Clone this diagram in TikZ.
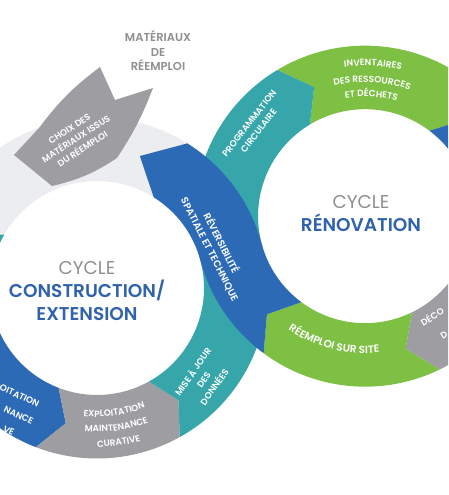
\documentclass[tikz,border=0pt]{standalone}
\usepackage{fontspec}
\setmainfont{Poppins}[BoldFont={* SemiBold}]
\usetikzlibrary{decorations.text}
\definecolor{bandblue}{RGB}{44,106,182}
\definecolor{bandteal}{RGB}{54,166,170}
\definecolor{bandgreen}{RGB}{125,192,68}
\definecolor{bandgrey}{RGB}{158,158,162}
\definecolor{bandlight}{RGB}{236,237,240}
\definecolor{titleblue}{RGB}{48,99,172}
\definecolor{titlegrey}{RGB}{143,143,146}
\newcommand{\lblfont}{\bfseries\fontsize{9}{15}\selectfont}
% ring segment: colour, centre, tail angle, head angle, notch angle, tip angle
\newcommand{\ringseg}[6]{\fill[#1,shift={(#2)}] (#3:\rin) -- (#5:\rmid) -- (#3:\rout) arc[start angle=#3,end angle=#4,radius=\rout] -- (#6:\rmid) -- (#4:\rin) arc[start angle=#4,end angle=#3,radius=\rin] -- cycle;}
% text on an arc: [font], centre, radius, start angle, end angle, text
\newcommand{\arctext}[6][\lblfont]{\path[decorate,decoration={text along path,text align=center,text color=white,text={|#1|#6}}] ([shift={(#2)}]#4:#3) arc[start angle=#4,end angle=#5,radius=#3];}
\begin{document}
\begin{tikzpicture}[x=1pt,y=1pt,lbl/.style={text=white,font=\lblfont,align=center,inner sep=0pt},title/.style={text=titleblue,font=\fontsize{18.5}{23}\selectfont,align=center,inner sep=0pt},note/.style={text=titlegrey,font=\bfseries\fontsize{11.5}{14.5}\selectfont,align=center,inner sep=0pt}]
\def\rin{107}
\def\rout{170.5}
\def\rmid{138.75}
\def\th{15}

\useasboundingbox (0,0) rectangle (448,495);
\clip (0,0) rectangle (448,495);
\fill[white] (0,0) rectangle (448,495);

\coordinate (c1) at (97,207);
\coordinate (c2) at ([shift={(c1)}]\th:277.5);

% cycle construction / extension
\ringseg{bandlight}{c1}{50}{150}{50}{158}
\ringseg{bandteal}{c1}{150}{200}{158}{210}
\ringseg{bandblue}{c1}{200}{249}{210}{257}
\ringseg{bandgrey}{c1}{249}{299}{257}{306}

% cycle renovation
\ringseg{bandgreen}{c2}{121}{53}{111.5}{44}
\ringseg{bandblue}{c2}{53}{-30}{44}{-39}
\ringseg{bandgrey}{c2}{-30}{-64}{-39}{-73}
\ringseg{bandgreen}{c2}{-64}{-126.5}{-73}{-135}

% teal band going over to the right cycle
\fill[bandteal] ([shift={(c1)}]-61:\rin) -- ([shift={(c1)}]-54:\rmid) -- ([shift={(c1)}]-61:\rout)
  arc[start angle=-61,end angle=\th,radius=\rout]
  arc[start angle=180+\th,end angle=121,radius=\rin]
  -- ([shift={(c2)}]111.5:\rmid) -- ([shift={(c2)}]121:\rout)
  arc[start angle=121,end angle=180+\th,radius=\rout]
  arc[start angle=\th,end angle=-61,radius=\rin] -- cycle;

% incoming arrow
\fill[bandgrey] (14,340) -- (39,367) to[bend left=8] (100,428) -- (115,395) -- (153,407)
  to[bend left=6] (117,337) to[bend left=10] (52,309) -- cycle;

% blue band going over to the left cycle
\fill[bandblue] ([shift={(c1)}]72:\rmid) -- ([shift={(c1)}]58:\rout)
  arc[start angle=58,end angle=\th,radius=\rout]
  arc[start angle=180+\th,end angle=233.5,radius=\rin]
  -- ([shift={(c2)}]225:\rmid) -- ([shift={(c2)}]233.5:\rout)
  arc[start angle=233.5,end angle=180+\th,radius=\rout]
  arc[start angle=\th,end angle=58,radius=\rin] -- cycle;

% titles
\node[title] (tcons) at (87,204) {\textcolor{titlegrey}{CYCLE}\\\textbf{CONSTRUCTION/}\\\textbf{EXTENSION}};
\node[title] (treno) at (361,281) {\textcolor{titlegrey}{CYCLE}\\\textbf{RÉNOVATION}};
\node[note] (mat) at (158,444) {MATÉRIAUX\\DE\\RÉEMPLOI};

% labels
\node[lbl,rotate=33,font=\bfseries\fontsize{9}{12}\selectfont] (choix) at (76,356) {CHOIX DES\\MATÉRIAUX ISSUS\\DU RÉEMPLOI};
\node[lbl,rotate=-63,font=\bfseries\fontsize{9.8}{13}\selectfont] (rever) at (216,249) {RÉVERSIBILITÉ\\SPATIALE ET TECHNIQUE};
\node[lbl,rotate=52,font=\bfseries\fontsize{9}{12}\selectfont] (prog) at (254,368) {PROGRAMMATION\\CIRCULAIRE};
\node[lbl,rotate=55,font=\bfseries\fontsize{9}{13}\selectfont] (maj) at (203,116) {MISE À JOUR\\DES\\DONNÉES};
\arctext{c2}{150.5}{122}{52}{INVENTAIRES}
\arctext{c2}{134}{122}{52}{DES RESSOURCES}
\arctext{c2}{119.5}{125}{49}{ET DÉCHETS}
\arctext[\bfseries\fontsize{10.5}{12}\selectfont]{c2}{137}{218}{294}{RÉEMPLOI SUR SITE}
\arctext{c1}{129}{245}{311}{EXPLOITATION}
\arctext{c1}{144}{248}{308}{MAINTENANCE}
\arctext{c1}{159}{250}{306}{CURATIVE}
\node[lbl,rotate=32,anchor=west] (deco) at (421,172) {DÉCO};
\node[lbl,rotate=32,anchor=west] (decob) at (441,158) {D};
\node[lbl,rotate=-25,anchor=east] (preva) at (39,90) {OITATION};
\node[lbl,rotate=-25,anchor=east] (prevb) at (33,73) {NANCE};
\node[lbl,rotate=-25,anchor=east] (prevc) at (14,62) {VE};
\end{tikzpicture}
\end{document}
